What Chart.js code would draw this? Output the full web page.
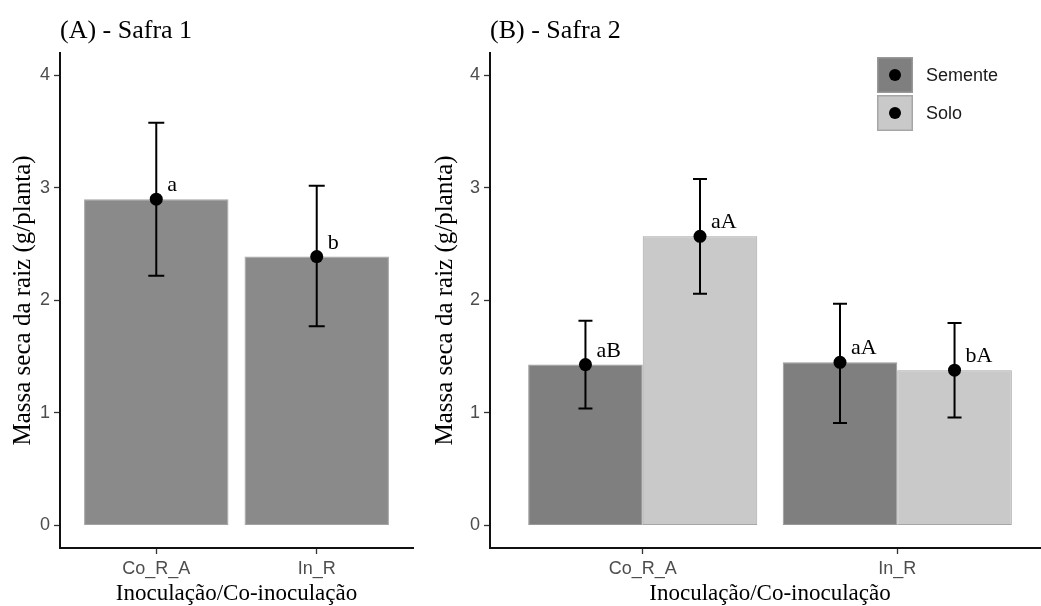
<!DOCTYPE html>
<html>
<head>
<meta charset="utf-8">
<script src="https://cdn.jsdelivr.net/npm/chart.js@4.4.1/dist/chart.umd.min.js"></script>
<style>
  html, body { margin: 0; padding: 0; background: #fff; width: 1041px; height: 606px; overflow: hidden; }
  .panel { position: absolute; top: 0; height: 606px; }
  #panelA { left: 0; width: 420px; }
  #panelB { left: 420px; width: 640px; }
</style>
</head>
<body>
<div class="panel" id="panelA"><canvas id="chartA"></canvas></div>
<div class="panel" id="panelB"><canvas id="chartB"></canvas></div>
<script>
const categories = ['Co_R_A', 'In_R'];
const yTicks = [0, 1, 2, 3, 4];

// Safra 1 - single treatment
const safra1Mean = [2.90, 2.39];
const safra1Low = [2.22, 1.77];
const safra1High = [3.58, 3.02];
const safra1Letters = ['a', 'b'];

// Safra 2 - semente vs solo
const sementeMean = [1.43, 1.45];
const sementeLow = [1.04, 0.91];
const sementeHigh = [1.82, 1.97];
const sementeLetters = ['aB', 'aA'];

const soloMean = [2.57, 1.38];
const soloLow = [2.06, 0.96];
const soloHigh = [3.08, 1.80];
const soloLetters = ['aA', 'bA'];

const serif = 'Liberation Serif';
const sans = 'Liberation Sans';

// error bars, mean points and significance letters on top of each bar
const errorBars = {
  id: 'errorBars',
  afterDatasetsDraw(chart, args, opts) {
    const ctx = chart.ctx;
    const y = chart.scales.y;
    chart.data.datasets.forEach((ds, di) => {
      chart.getDatasetMeta(di).data.forEach((bar, i) => {
        const x = bar.x;
        const top = y.getPixelForValue(ds.high[i]);
        const bot = y.getPixelForValue(ds.low[i]);
        const mid = y.getPixelForValue(ds.data[i].y);
        ctx.save();
        ctx.strokeStyle = '#000';
        ctx.fillStyle = '#000';
        ctx.lineWidth = 2;
        ctx.beginPath();
        ctx.moveTo(x, top); ctx.lineTo(x, bot);
        ctx.moveTo(x - opts.cap, top); ctx.lineTo(x + opts.cap, top);
        ctx.moveTo(x - opts.cap, bot); ctx.lineTo(x + opts.cap, bot);
        ctx.stroke();
        ctx.beginPath();
        ctx.arc(x, mid, 6.5, 0, Math.PI * 2);
        ctx.fill();
        ctx.font = '22px "' + serif + '"';
        ctx.textAlign = 'left';
        ctx.textBaseline = 'alphabetic';
        ctx.fillText(ds.letters[i], x + 11, mid - 8);
        ctx.restore();
      });
    });
  }
};

// fill key legend drawn inside the plot area
const fillLegend = {
  id: 'fillLegend',
  afterDraw(chart, args, opts) {
    if (!opts.display) return;
    const ctx = chart.ctx;
    chart.data.datasets.forEach((ds, i) => {
      const kx = opts.x, ky = opts.y + i * opts.step;
      ctx.save();
      ctx.fillStyle = ds.backgroundColor;
      ctx.fillRect(kx, ky, opts.size, opts.size);
      ctx.strokeStyle = ds.borderColor;
      ctx.lineWidth = 1.5;
      ctx.strokeRect(kx + 0.75, ky + 0.75, opts.size - 1.5, opts.size - 1.5);
      ctx.fillStyle = '#000';
      ctx.beginPath();
      ctx.arc(kx + opts.size / 2, ky + opts.size / 2, 6, 0, Math.PI * 2);
      ctx.fill();
      ctx.fillStyle = '#1a1a1a';
      ctx.font = '18px "' + sans + '"';
      ctx.textBaseline = 'middle';
      ctx.fillText(ds.label, kx + opts.size + 13, ky + opts.size / 2 + 1);
      ctx.restore();
    });
  }
};

function makeOptions(title, yWidth, yTitlePad, padRight, cap, legend) {
  return {
    responsive: true,
    maintainAspectRatio: false,
    animation: false,
    layout: { padding: { left: 0, right: padRight, top: 0, bottom: 0 } },
    datasets: { bar: { categoryPercentage: 0.9, barPercentage: 1, borderWidth: 1, borderSkipped: false } },
    plugins: {
      legend: { display: false },
      tooltip: { enabled: false },
      title: {
        display: true, text: title, align: 'start', fullSize: false, color: '#000',
        font: { family: serif, size: 26, weight: 'normal', lineHeight: 1.15 },
        padding: { top: 16, bottom: 7 }
      },
      errorBars: { cap: cap },
      fillLegend: legend
    },
    scales: {
      x: {
        type: 'linear', min: 0.4, max: 2.6, offset: false, bounds: 'data',
        afterBuildTicks: s => { s.ticks = categories.map((c, i) => ({ value: i + 1 })); },
        afterFit: s => { s.height = 58; },
        ticks: {
          callback: v => categories[v - 1], color: '#4d4d4d', padding: 4,
          font: { family: sans, size: 18 }
        },
        grid: { drawOnChartArea: false, offset: false, tickLength: 6, tickColor: '#333', tickWidth: 1.3 },
        border: { color: '#111', width: 2 },
        title: {
          display: true, text: 'Inoculação/Co-inoculação', color: '#000',
          font: { family: serif, size: 23, lineHeight: 1.05 }, padding: { top: 0, bottom: 0 }
        }
      },
      y: {
        min: -0.2, max: 4.2, bounds: 'data',
        afterBuildTicks: s => { s.ticks = yTicks.map(v => ({ value: v })); },
        afterFit: s => { s.width = yWidth; },
        ticks: { color: '#4d4d4d', padding: 4, font: { family: sans, size: 18 } },
        grid: { drawOnChartArea: false, tickLength: 6, tickColor: '#333', tickWidth: 1.3 },
        border: { color: '#111', width: 2 },
        title: {
          display: true, text: 'Massa seca da raiz (g/planta)', color: '#000',
          font: { family: serif, size: 25 }, padding: { top: yTitlePad, bottom: 0 }
        }
      }
    }
  };
}

const toPoints = vals => vals.map((v, i) => ({ x: i + 1, y: v }));

new Chart(document.getElementById('chartA'), {
  type: 'bar',
  data: {
    datasets: [{
      label: 'Safra 1',
      data: toPoints(safra1Mean),
      low: safra1Low, high: safra1High, letters: safra1Letters,
      backgroundColor: '#8a8a8a', borderColor: '#a3a3a3'
    }]
  },
  options: makeOptions('(A) - Safra 1', 60, 8, 7, 8, { display: false }),
  plugins: [errorBars, fillLegend]
});

new Chart(document.getElementById('chartB'), {
  type: 'bar',
  data: {
    datasets: [{
      label: 'Semente',
      data: toPoints(sementeMean),
      low: sementeLow, high: sementeHigh, letters: sementeLetters,
      backgroundColor: '#7f7f7f', borderColor: '#999999'
    }, {
      label: 'Solo',
      data: toPoints(soloMean),
      low: soloLow, high: soloHigh, letters: soloLetters,
      backgroundColor: '#c9c9c9', borderColor: '#a6a6a6'
    }]
  },
  options: makeOptions('(B) - Safra 2', 70, 10, 10, 7,
    { display: true, x: 457, y: 57, size: 36, step: 38 }),
  plugins: [errorBars, fillLegend]
});
</script>
</body>
</html>
